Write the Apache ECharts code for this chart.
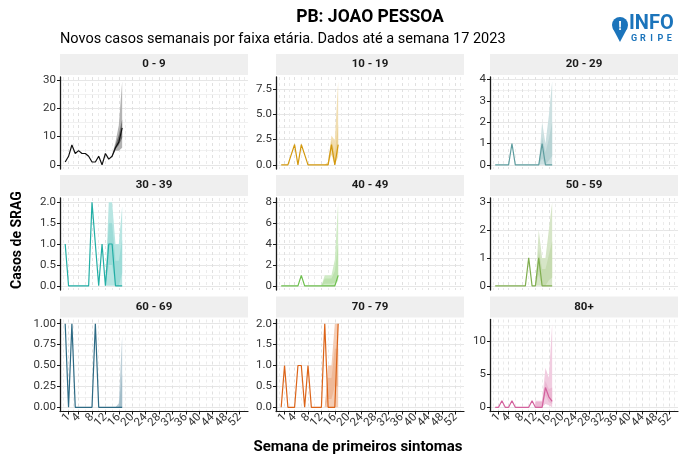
<!DOCTYPE html>
<html>
<head>
<meta charset="utf-8">
<title>PB: JOAO PESSOA</title>
<script src="https://cdn.jsdelivr.net/npm/echarts@6/dist/echarts.min.js"></script>
<style>
  html, body { margin: 0; padding: 0; background: #fff; }
  #main { width: 682px; height: 457px; }
</style>
</head>
<body>
<div id="main"></div>
<script>
// faixas etarias (uma por painel)
var faixas = ['0 - 9', '10 - 19', '20 - 29', '30 - 39', '40 - 49', '50 - 59', '60 - 69', '70 - 79', '80+'];
var cores = ['#111111', '#d3990f', '#5f9ea0', '#22aea5', '#6cbf4c', '#80ae50', '#2d6a84', '#dc6419', '#d3619d'];

// semanas 0..17
var semanas = [0, 1, 2, 3, 4, 5, 6, 7, 8, 9, 10, 11, 12, 13, 14, 15, 16, 17];
var casos = [
  [1, 3, 7, 4, 5, 4, 4, 3, 1, 1, 3, 0, 4, 2, 3, 6, 8, 13],
  [0, 0, 0, 1, 2, 0, 2, 1, 0, 0, 0, 0, 0, 0, 0, 2, 0, 2],
  [0, 0, 0, 0, 0, 1, 0, 0, 0, 0, 0, 0, 0, 0, 1, 0, 0, 0],
  [1, 0, 0, 0, 0, 0, 0, 0, 2, 1, 0, 1, 0, 1, 1, 0, 0, 0],
  [0, 0, 0, 0, 0, 0, 1, 0, 0, 0, 0, 0, 0, 0, 0, 0, 0, 1],
  [0, 0, 0, 0, 0, 0, 0, 0, 0, 0, 1, 0, 0, 1, 0, 0, 0, 0],
  [1, 0, 1, 0, 0, 0, 0, 0, 0, 1, 0, 0, 0, 0, 0, 0, 0, 0],
  [0, 1, 0, 0, 0, 1, 1, 0, 1, 0, 0, 0, 0, 2, 0, 0, 0, 2],
  [0, 0, 1, 0, 0, 1, 0, 0, 0, 0, 0, 1, 0, 0, 0, 3, 1.6, 0.9]
];

// nowcasting: semanas 12..17, intervalos 95% e 50%
var semanasNowcast = [12, 13, 14, 15, 16, 17];
var inf95 = [
  [2, 2, 3, 5, 5, 6],
  [0, 0, 0, 1, 0, 0.8],
  [0, 0, 0, 0, 0, 0],
  [0, 0, 0, 0, 0, 0],
  [0, 0, 0, 0, 0, 0.5],
  [0, 0, 0, 0, 0, 0],
  [0, 0, 0, 0, 0, 0],
  [0, 0, 0, 0, 0, 0],
  [0, 0, 0, 0.5, 0.3, 0]
];
var sup95 = [
  [2, 2, 3.5, 8, 14, 29.5],
  [0, 0, 0.3, 2.9, 2.4, 8.25],
  [0, 0, 2, 1, 2.3, 3.92],
  [0, 2, 2, 1, 1, 1.9],
  [0, 1, 1, 1, 2.5, 8],
  [0, 2, 1, 1, 2, 3],
  [0, 0, 0, 0, 0.05, 0.86],
  [0, 0, 1, 1, 2, 2],
  [1, 1, 1, 6, 4.5, 12.7]
];
var inf50 = [
  [2, 2, 3, 5.5, 7, 9.5],
  [0, 0, 0, 1.5, 0.3, 1.3],
  [0, 0, 0.3, 0, 0.2, 0.4],
  [0, 0.5, 0.5, 0, 0, 0.3],
  [0, 0.2, 0.2, 0.2, 0.3, 0.8],
  [0, 0.4, 0, 0, 0.2, 0.3],
  [0, 0, 0, 0, 0, 0],
  [0, 0, 0.2, 0.2, 0.5, 0.5],
  [0, 0, 0, 1.8, 0.8, 0.5]
];
var sup50 = [
  [2, 2, 3, 7, 10.5, 16],
  [0, 0, 0.1, 2.4, 1.2, 4],
  [0, 0, 1.3, 0.6, 1.2, 2],
  [0, 1.5, 1.5, 0.6, 0.6, 1.1],
  [0, 0.7, 0.7, 0.7, 1.4, 4],
  [0, 1.3, 0.6, 0.6, 1.1, 1.6],
  [0, 0, 0, 0, 0, 0.4],
  [0, 0, 0.7, 0.7, 1.4, 1.4],
  [0.8, 0.8, 0.8, 4, 2.8, 3]
];

// rotulos dos eixos
var xTicks = [1, 4, 8, 12, 16, 20, 24, 28, 32, 36, 40, 44, 48, 52];
var yTicks = [
  [0, 10, 20, 30],
  [0, 2.5, 5, 7.5],
  [0, 1, 2, 3, 4],
  [0, 0.5, 1, 1.5, 2],
  [0, 2, 4, 6, 8],
  [0, 1, 2, 3],
  [0, 0.25, 0.5, 0.75, 1],
  [0, 0.5, 1, 1.5, 2],
  [0, 5, 10]
];
var yDecimais = [0, 1, 0, 1, 0, 0, 2, 1, 0];

var colX = [60, 276, 490], panelW = 188;
var rowY = [77, 198, 319.5], panelH = 92;
var FONT = 'Roboto';

function minorBreaks(b, lo, hi) {
  var out = [];
  var d = b[1] - b[0];
  var ext = [b[0] - d].concat(b, [b[b.length - 1] + d]);
  for (var k = 0; k < ext.length - 1; k++) {
    var m = (ext[k] + ext[k + 1]) / 2;
    if (m > lo && m < hi && b.indexOf(m) < 0) out.push(m);
  }
  return out;
}

// cor clareada (mistura com branco), opaca para nao deixar a grade aparecer
function clarear(hex, a) {
  var n = parseInt(hex.slice(1), 16);
  var rgb = [(n >> 16) & 255, (n >> 8) & 255, n & 255].map(function (v) {
    return Math.round(v * a + 255 * (1 - a));
  });
  return 'rgb(' + rgb.join(',') + ')';
}

var xSpan = xTicks[xTicks.length - 1] - xTicks[0];
var xMin = xTicks[0] - 0.05 * xSpan, xMax = xTicks[xTicks.length - 1] + 0.05 * xSpan;
var xMinor = minorBreaks(xTicks, xMin, xMax);
// rotulos alternados em dois eixos para que o echarts nao esconda nenhum
var xLabA = xTicks.filter(function (v, k) { return k % 2 === 0; });
var xLabB = xTicks.filter(function (v, k) { return k % 2 === 1; });

var grids = [], xAxes = [], yAxes = [], series = [], graphics = [];

faixas.forEach(function (faixa, i) {
  var r = Math.floor(i / 3), c = i % 3;
  var bottomRow = r === 2;
  grids.push({ left: colX[c], top: rowY[r], width: panelW, height: panelH });

  var M = Math.max(Math.max.apply(null, casos[i]), Math.max.apply(null, sup95[i]));
  var yMin = -0.05 * M, yMax = 1.05 * M;
  var yMinor = minorBreaks(yTicks[i], yMin, yMax);

  var xLabelStyle = {
    show: bottomRow, rotate: 45, fontSize: 11.5, color: '#333', margin: 4,
    fontFamily: FONT, showMinLabel: true, showMaxLabel: true
  };
  // eixo x principal
  xAxes.push({
    type: 'value', gridIndex: i, position: 'bottom', min: xMin, max: xMax,
    axisLine: { show: bottomRow, onZero: false, lineStyle: { color: '#1a1a1a', width: 1.2 } },
    axisTick: { show: bottomRow, customValues: xTicks, length: 3, lineStyle: { color: '#1a1a1a' } },
    axisLabel: Object.assign({ customValues: xLabA }, xLabelStyle),
    splitLine: { show: true, lineStyle: { color: '#e0e0e0', type: [3, 3], width: 1 } }
  });
  // eixo x so com os demais rotulos
  xAxes.push({
    type: 'value', gridIndex: i, position: 'bottom', offset: 0, min: xMin, max: xMax,
    axisLine: { show: false, onZero: false },
    axisTick: { show: false, customValues: xLabB },
    axisLabel: Object.assign({ customValues: xLabB }, xLabelStyle),
    splitLine: { show: false }
  });
  // eixo x secundario (grade menor)
  xAxes.push({
    type: 'value', gridIndex: i, position: 'bottom', offset: 0, min: xMin, max: xMax,
    axisLine: { show: false, onZero: false },
    axisTick: { show: false, customValues: xMinor },
    axisLabel: { show: false, customValues: xMinor },
    splitLine: { show: true, lineStyle: { color: '#ebebeb', type: [3, 3], width: 1 } }
  });
  // eixo y principal
  yAxes.push({
    type: 'value', gridIndex: i, position: 'left', min: yMin, max: yMax,
    axisLine: { show: true, onZero: false, lineStyle: { color: '#1a1a1a', width: 1.3 } },
    axisTick: { show: true, customValues: yTicks[i], length: 3, lineStyle: { color: '#1a1a1a' } },
    axisLabel: {
      show: true, customValues: yTicks[i], fontSize: 11.5, color: '#333', margin: 4, fontFamily: FONT,
      showMinLabel: true, showMaxLabel: true,
      formatter: function (v) { return Number(v).toFixed(yDecimais[i]); }
    },
    splitLine: { show: true, lineStyle: { color: '#e6e6e6', width: 1 } }
  });
  // eixo y secundario
  yAxes.push({
    type: 'value', gridIndex: i, position: 'left', offset: 0, min: yMin, max: yMax,
    axisLine: { show: false, onZero: false },
    axisTick: { show: false, customValues: yMinor },
    axisLabel: { show: false, customValues: yMinor },
    splitLine: { show: true, lineStyle: { color: '#f1f1f1', width: 1 } }
  });

  var xi = 3 * i, yi = 2 * i;
  // banda de incerteza desenhada como poligono na escala do grafico
  function banda(lo, hi, cor) {
    series.push({
      type: 'custom', xAxisIndex: xi, yAxisIndex: yi, silent: true, zlevel: 1, z: 2,
      data: [[semanasNowcast[0], lo[0]]],
      encode: { x: 0, y: 1 },
      renderItem: function (params, api) {
        var pts = [];
        semanasNowcast.forEach(function (w, k) { pts.push(api.coord([w, hi[k]])); });
        for (var k = semanasNowcast.length - 1; k >= 0; k--) {
          pts.push(api.coord([semanasNowcast[k], lo[k]]));
        }
        return { type: 'polygon', shape: { points: pts }, style: { fill: cor, stroke: null } };
      }
    });
  }
  banda(inf95[i], sup95[i], clarear(cores[i], 0.32));
  banda(inf50[i], sup50[i], clarear(cores[i], i === 0 ? 0.6 : 0.45));

  series.push({
    type: 'line', xAxisIndex: xi, yAxisIndex: yi, silent: true, zlevel: 1, z: 5,
    symbol: 'none', lineStyle: { color: cores[i], width: 1.2 },
    data: semanas.map(function (w, k) { return [w, casos[i][k]]; })
  });

  // faixa (strip) do painel
  graphics.push({
    type: 'rect', shape: { x: colX[c], y: rowY[r] - 23, width: panelW, height: 21 },
    style: { fill: '#efefef' }, silent: true
  });
  graphics.push({
    type: 'text', x: colX[c] + panelW / 2, y: rowY[r] - 12.5,
    style: { text: faixa, fill: '#1a1a1a', font: 'bold 11.5px ' + FONT, align: 'center', verticalAlign: 'middle' },
    silent: true
  });
});

// titulos
graphics.push({
  type: 'text', x: 370, y: 18,
  style: { text: 'PB: JOAO PESSOA', fill: '#000', font: 'bold 17.5px ' + FONT, align: 'center', verticalAlign: 'middle' }
});
graphics.push({
  type: 'text', x: 60, y: 39,
  style: { text: 'Novos casos semanais por faixa etária. Dados até a semana 17 2023', fill: '#000', font: '14.5px ' + FONT, align: 'left', verticalAlign: 'middle' }
});
graphics.push({
  type: 'text', x: 17, y: 240, rotation: Math.PI / 2,
  style: { text: 'Casos de SRAG', fill: '#000', font: 'bold 14px ' + FONT, align: 'center', verticalAlign: 'middle' }
});
graphics.push({
  type: 'text', x: 358, y: 447,
  style: { text: 'Semana de primeiros sintomas', fill: '#000', font: 'bold 15px ' + FONT, align: 'center', verticalAlign: 'middle' }
});

// logo InfoGripe
var azul = '#1b74bb';
graphics.push({ type: 'circle', shape: { cx: 620, cy: 25, r: 8 }, style: { fill: azul } });
graphics.push({ type: 'polygon', shape: { points: [[612.6, 28], [627.4, 28], [620, 42]] }, style: { fill: azul } });
graphics.push({
  type: 'text', x: 620, y: 27,
  style: { text: '!', fill: '#fff', font: 'bold 13px ' + FONT, align: 'center', verticalAlign: 'middle' }
});
graphics.push({
  type: 'text', x: 629, y: 24,
  style: { text: 'INFO', fill: azul, font: 'bold 20px ' + FONT, align: 'left', verticalAlign: 'middle' }
});
['G', 'R', 'I', 'P', 'E'].forEach(function (l, k) {
  graphics.push({
    type: 'text', x: 634 + k * 8.8, y: 38.5,
    style: { text: l, fill: azul, font: 'bold 9px ' + FONT, align: 'center', verticalAlign: 'middle' }
  });
});

var chart = echarts.init(document.getElementById('main'));
chart.setOption({
  animation: false,
  backgroundColor: '#fff',
  grid: grids,
  xAxis: xAxes,
  yAxis: yAxes,
  series: series,
  graphic: graphics
});
</script>
</body>
</html>
